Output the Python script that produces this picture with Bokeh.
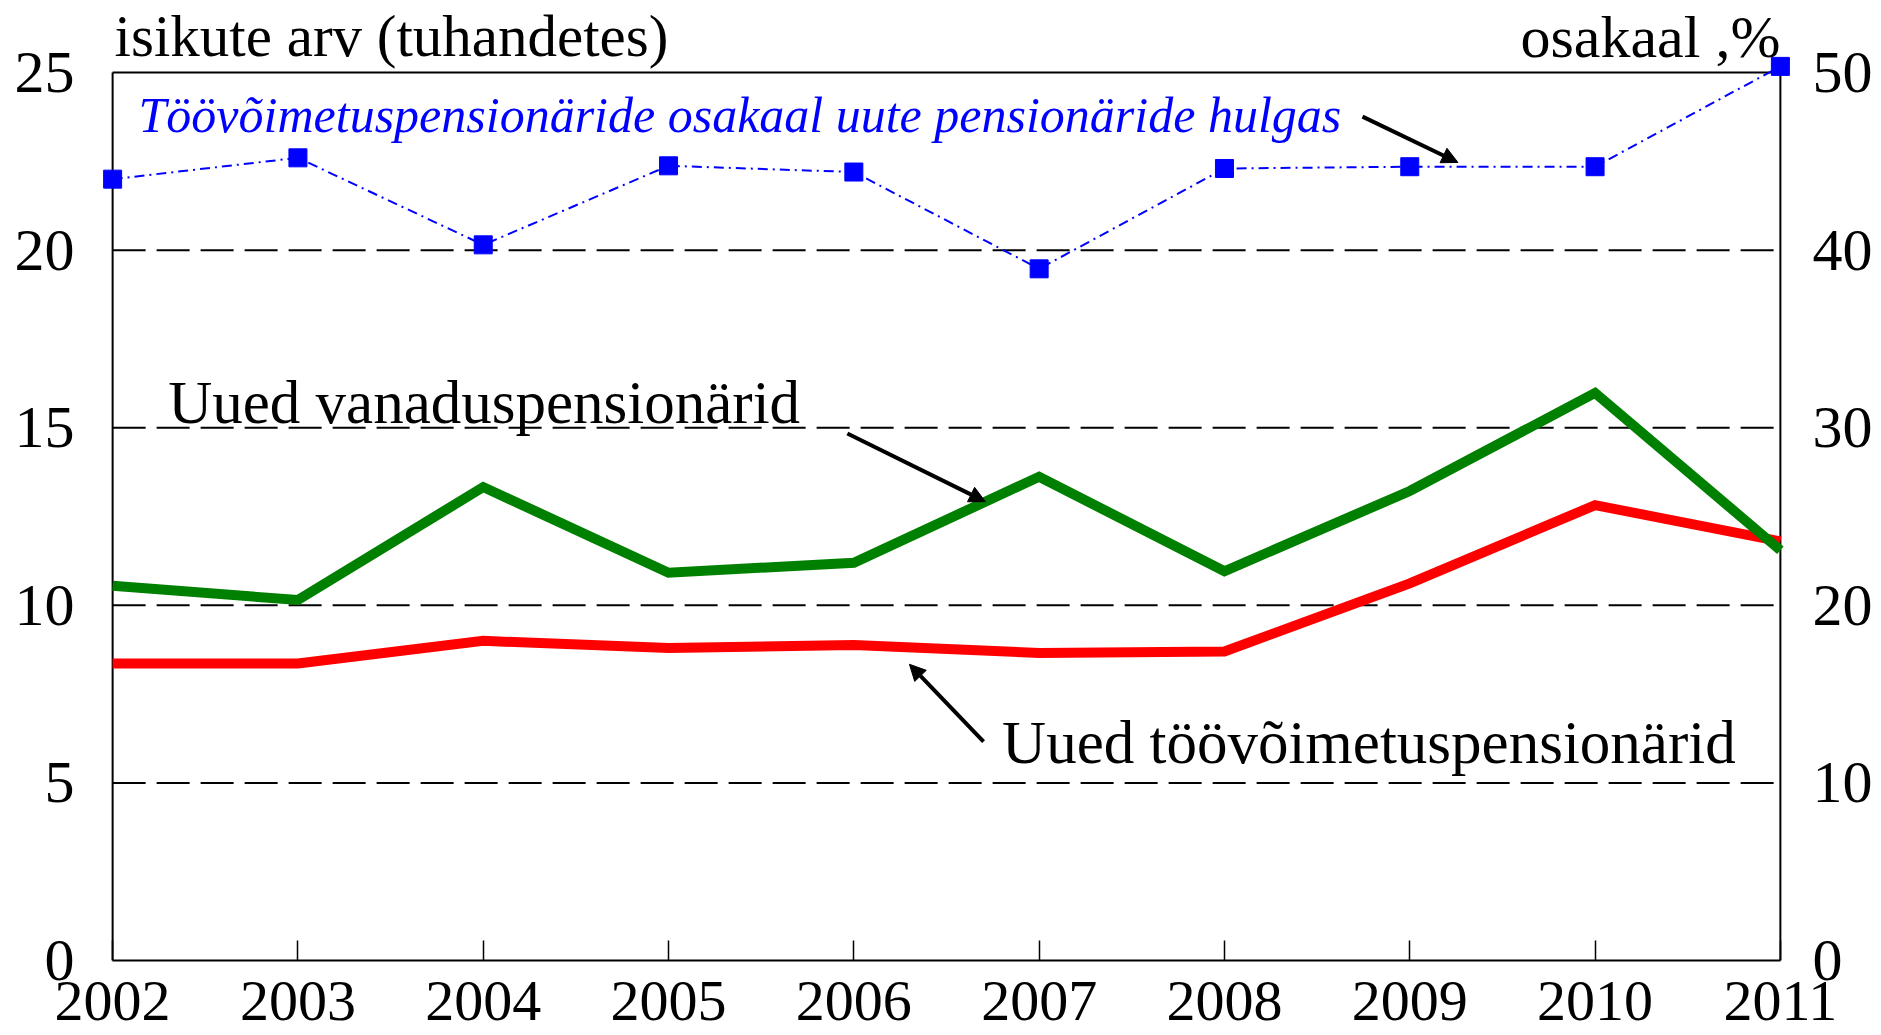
from bokeh.plotting import figure
from bokeh.models import (Range1d, LinearAxis, FixedTicker, Label, Arrow, NormalHead)
from bokeh.embed import file_html
from bokeh.resources import INLINE

years = [2002, 2003, 2004, 2005, 2006, 2007, 2008, 2009, 2010, 2011]
vanadus = [10.55, 10.15, 13.33, 10.92, 11.2, 13.62, 10.96, 13.22, 15.98, 11.55]
toovoimetus = [8.36, 8.36, 9.0, 8.8, 8.88, 8.66, 8.7, 10.62, 12.82, 11.8]
osakaal = [44.0, 45.2, 40.3, 44.75, 44.4, 38.95, 44.6, 44.7, 44.7, 50.35]

left_ticks = [0, 5, 10, 15, 20, 25]
right_ticks = [0, 10, 20, 30, 40, 50]
grid_levels = [5, 10, 15, 20]

FONT = "Liberation Serif"
YTOP = 27.03   # frame extends above the 25 line to hold the header texts
XPAD = 0.06    # small room so the end markers are not clipped

x0, x1 = years[0], years[-1]
ymax = left_ticks[-1]

p = figure(width=1881, height=1035, output_backend="svg", toolbar_location=None,
           x_range=Range1d(x0 - XPAD, x1 + XPAD), y_range=Range1d(0, YTOP),
           min_border_left=101, min_border_right=90, min_border_top=0,
           min_border_bottom=75, outline_line_color=None,
           x_axis_type=None, y_axis_type=None)
p.background_fill_color = "white"
p.border_fill_color = "white"

p.extra_y_ranges = {"pct": Range1d(0, 2 * YTOP)}

# axes
xa = LinearAxis(ticker=FixedTicker(ticks=years), bounds=(x0, x1))
xa.major_tick_in = 20
xa.major_tick_out = 0
xa.minor_tick_line_color = None
xa.axis_line_color = "black"
xa.axis_line_width = 2
xa.major_tick_line_width = 1.5
xa.major_label_text_font = FONT
xa.major_label_text_font_size = "58px"
xa.major_label_text_color = "black"
xa.major_label_standoff = 21
p.add_layout(xa, "below")

ya = LinearAxis(ticker=FixedTicker(ticks=left_ticks))
ya.major_tick_in = 0
ya.major_tick_out = 0
ya.minor_tick_line_color = None
ya.axis_line_color = None
ya.major_label_text_font = FONT
ya.major_label_text_font_size = "60px"
ya.major_label_text_color = "black"
ya.major_label_standoff = 27
p.add_layout(ya, "left")

yr = LinearAxis(y_range_name="pct", ticker=FixedTicker(ticks=right_ticks))
yr.major_tick_in = 0
yr.major_tick_out = 0
yr.minor_tick_line_color = None
yr.axis_line_color = None
yr.major_label_text_font = FONT
yr.major_label_text_font_size = "60px"
yr.major_label_text_color = "black"
yr.major_label_standoff = 21
p.add_layout(yr, "right")

# frame lines: left, right, top
p.segment(x0=[x0, x1, x0], y0=[0, 0, ymax], x1=[x0, x1, x1], y1=[ymax, ymax, ymax],
          line_color="black", line_width=2)

# dashed grid lines
n = len(grid_levels)
p.segment(x0=[x0] * n, y0=grid_levels, x1=[x1] * n, y1=grid_levels,
          line_color="black", line_width=2, line_dash="33 11")

# series
p.line(years, toovoimetus, line_color="#ff0000", line_width=10, line_join="miter")
p.line(years, vanadus, line_color="#008000", line_width=10, line_join="miter")
p.line(years, osakaal, y_range_name="pct", line_color="#0000ff", line_width=2,
       line_dash="10 5 2 5")
p.scatter(years, osakaal, y_range_name="pct", marker="square", size=18,
          fill_color="#0000ff", line_color="#0000ff")

# texts
p.add_layout(Label(x=x0, y=25, x_offset=2, y_offset=37, text="isikute arv (tuhandetes)",
                   text_font=FONT, text_font_size="59px", text_color="black",
                   text_baseline="alphabetic", text_align="left"))
p.add_layout(Label(x=x1, y=25, x_offset=0, y_offset=36, text="osakaal ,%",
                   text_font=FONT, text_font_size="60px", text_color="black",
                   text_baseline="alphabetic", text_align="right"))
p.add_layout(Label(x=2002.14, y=23.81, text="Töövõimetuspensionäride osakaal uute pensionäride hulgas",
                   text_font=FONT, text_font_size="50px", text_font_style="italic",
                   text_color="#0000ff", text_baseline="alphabetic", text_align="left"))
p.add_layout(Label(x=2002.30, y=15.71, text="Uued vanaduspensionärid",
                   text_font=FONT, text_font_size="61px", text_color="black",
                   text_baseline="alphabetic", text_align="left"))
p.add_layout(Label(x=2006.80, y=6.13, text="Uued töövõimetuspensionärid",
                   text_font=FONT, text_font_size="61px", text_color="black",
                   text_baseline="alphabetic", text_align="left"))

# arrows
for (ax0, ay0, ax1, ay1) in [(2008.745, 23.76, 2009.26, 22.47),
                             (2005.965, 14.84, 2006.71, 12.92),
                             (2006.70, 6.16, 2006.30, 8.34)]:
    p.add_layout(Arrow(x_start=ax0, y_start=ay0, x_end=ax1, y_end=ay1,
                       line_color="black", line_width=4,
                       end=NormalHead(size=16, fill_color="black", line_color="black")))

open("out.html", "w").write(file_html(p, INLINE))
